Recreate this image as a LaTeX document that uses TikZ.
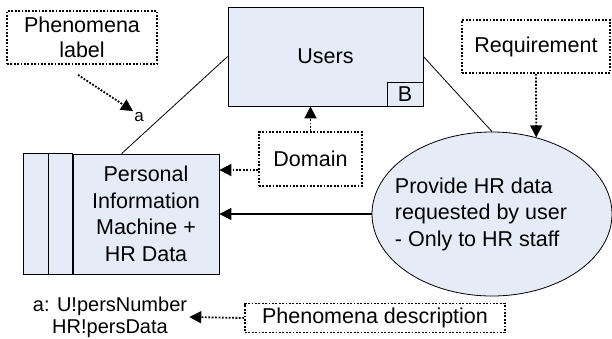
\documentclass[tikz,border=0pt]{standalone}
\usepackage{fontspec}
\setmainfont{Liberation Sans}
\usetikzlibrary{shapes.geometric,arrows.meta}
\definecolor{boxblue}{RGB}{230,236,247}

\begin{document}
\begin{tikzpicture}[x=1pt,y=-1pt,>={Triangle[length=12pt,width=12pt]},
    main node/.style={draw,fill=boxblue,line width=0.8pt,font=\fontsize{21.5}{26.5}\selectfont,align=center},
    note node/.style={draw,line width=1.8pt,dash pattern=on 1.8pt off 1.6pt,font=\fontsize{21.5}{25}\selectfont,align=center,inner sep=0pt},
    note arrow/.style={->,line width=1.8pt,dash pattern=on 1.8pt off 1.6pt}]
    \useasboundingbox (0,0) rectangle (612,338);

    \node[main node,minimum width=195,minimum height=99] (users) at (325.5,56.5) {Users};
    \node[main node,anchor=south east,minimum width=36,minimum height=24,inner sep=0pt] (b) at (users.south east) {B};
    \node[main node,minimum width=146,minimum height=120] (pim) at (146,214) {Personal\\Information\\Machine +\\HR Data};
    \node[main node,ellipse,minimum width=240,minimum height=164,inner sep=0pt,
        label={[xshift=-11pt,align=left,font=\fontsize{21.5}{26.5}\selectfont]center:{Provide HR data\\requested by user\\- Only to HR staff}}] (goal) at (492,214) {};

    \node[note node,minimum width=150,minimum height=53] (plabel) at (82,37.5) {Phenomena\\label};
    \node[note node,minimum width=148,minimum height=53] (req) at (536,46.5) {Requirement};
    \node[note node,minimum width=103,minimum height=54] (dom) at (310.5,159) {Domain};
    \node[note node,minimum width=260,minimum height=29] (desc) at (375,318) {Phenomena description};
    \node[font=\fontsize{17}{20}\selectfont,inner sep=1pt] (a) at (139,117) {a};
    \node[font=\fontsize{20}{22}\selectfont,align=center,inner sep=2pt] (pdesc) at (110,317) {a: U!persNumber\\HR!persData};

    % side strip of the machine box
    \draw[fill=boxblue,line width=0.8pt] ([xshift=-49pt]pim.north west) rectangle (pim.south west);
    \draw[line width=0.8pt] ([xshift=-24pt]pim.north west) -- ([xshift=-24pt]pim.south west);

    \path[line width=0.8pt]
        (users.west) edge ([xshift=49pt]pim.north west)
        (users.east) edge (goal.north)
        ;
    \draw[->,line width=1.4pt] (goal) -- (pim);

    \draw[note arrow] (req.south) -- (goal.60);
    \draw[note arrow] (dom.north) -- (dom.north |- users.south);
    \draw[note arrow] ([yshift=-11pt]dom.west) -- ([yshift=-11pt]dom.west -| pim.east);
    \draw[note arrow] ([xshift=-4pt,yshift=-10pt]plabel.south) -- (a.north west);
    \draw[note arrow] (desc.west) -- (pdesc.east);
\end{tikzpicture}
\end{document}
